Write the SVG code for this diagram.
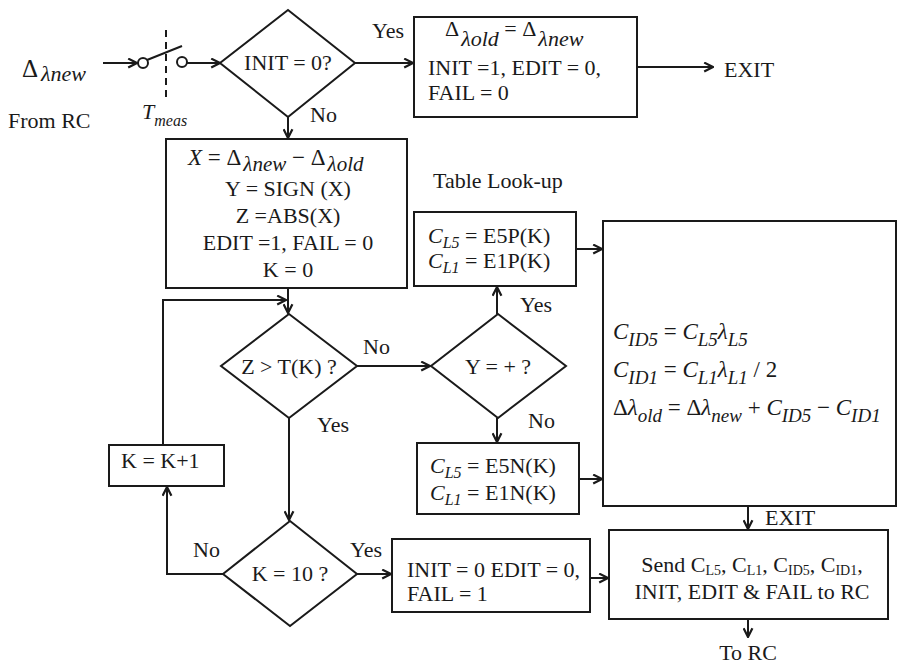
<svg xmlns="http://www.w3.org/2000/svg" width="902" height="666" viewBox="0 0 902 666">
<style>
.b{fill:#fff;stroke:#1a1a1a;stroke-width:2}
.c{fill:none;stroke:#1a1a1a;stroke-width:2}
text{font-family:"Liberation Serif","Times New Roman",serif;font-size:22px;fill:#1a1a1a}
.i{font-style:italic}
.s{font-size:16px}
.q{font-size:19px}
.m{text-anchor:middle}
</style>
<defs>
<marker id="a" viewBox="0 0 10 10" refX="9" refY="5" markerWidth="11" markerHeight="11" markerUnits="userSpaceOnUse" orient="auto">
<path d="M1,1 L9,5 L1,9" fill="none" stroke="#1a1a1a" stroke-width="2"/>
</marker>
</defs>
<rect width="902" height="666" fill="#fff"/>

<g id="input">
<text x="22" y="77" style="font-size:25px">Δ<tspan class="i" dx="3" dy="4" style="font-size:22px">λnew</tspan></text>
<text x="8" y="128">From RC</text>
</g>

<g id="switch">
<circle cx="143" cy="63" r="5" class="c"/>
<circle cx="182" cy="62" r="5" class="c"/>
<path d="M147,60 L182,46" class="c"/>
<path d="M166,30 V100" class="c" stroke-dasharray="7,5"/>
<text x="142" y="119" class="i">T<tspan class="s" dy="7">meas</tspan></text>
</g>

<g id="initCheck">
<polygon points="288,10 355,63 288,117 220,63" class="b"/>
<text x="288" y="70" class="m">INIT = 0?</text>
</g>

<g id="initBox">
<rect x="414" y="17" width="223" height="100" class="b"/>
<text x="445" y="36">Δ<tspan class="i" dx="2" dy="10">λold</tspan><tspan dy="-10"> = Δ</tspan><tspan class="i" dx="2" dy="10">λnew</tspan></text>
<text x="428" y="75">INIT =1, EDIT = 0,</text>
<text x="428" y="100">FAIL = 0</text>
</g>

<g id="exit1">
<text x="724" y="77">EXIT</text>
</g>

<g id="computeBox">
<rect x="166" y="139" width="241" height="149" class="b"/>
<text x="188" y="165" class="i" style="font-size:23px">X<tspan font-style="normal"> = Δ</tspan><tspan dx="2" dy="6" style="font-size:21px">λnew</tspan><tspan dy="-6" font-style="normal"> − Δ</tspan><tspan dx="2" dy="6" style="font-size:21px">λold</tspan></text>
<text x="288" y="196" class="m">Y = SIGN (X)</text>
<text x="288" y="223" class="m">Z =ABS(X)</text>
<text x="288" y="250" class="m">EDIT =1, FAIL = 0</text>
<text x="288" y="277" class="m">K = 0</text>
</g>

<g id="tableLabel">
<text x="433" y="188">Table Look-up</text>
</g>

<g id="zCheck">
<polygon points="289,314 357,366 289,418 221,366" class="b"/>
<text x="289" y="374" class="m">Z &gt; T(K) ?</text>
</g>

<g id="yCheck">
<polygon points="498,314 566,366 498,418 431,366" class="b"/>
<text x="498" y="374" class="m">Y = + ?</text>
</g>

<g id="posBox">
<rect x="414" y="212" width="162" height="74" class="b"/>
<text x="428" y="243"><tspan class="i">C</tspan><tspan class="i s" dy="5">L5</tspan><tspan dy="-5"> = E5P(K)</tspan></text>
<text x="428" y="268"><tspan class="i">C</tspan><tspan class="i s" dy="5">L1</tspan><tspan dy="-5"> = E1P(K)</tspan></text>
</g>

<g id="negBox">
<rect x="417" y="443" width="162" height="71" class="b"/>
<text x="430" y="473"><tspan class="i">C</tspan><tspan class="i s" dy="5">L5</tspan><tspan dy="-5"> = E5N(K)</tspan></text>
<text x="430" y="500"><tspan class="i">C</tspan><tspan class="i s" dy="5">L1</tspan><tspan dy="-5"> = E1N(K)</tspan></text>
</g>

<g id="calcBox">
<rect x="603" y="221" width="293" height="285" class="b"/>
<text x="613" y="339" style="font-size:23px"><tspan class="i">C</tspan><tspan class="i q" dy="7">ID5</tspan><tspan dy="-7"> = </tspan><tspan class="i">C</tspan><tspan class="i q" dy="7">L5</tspan><tspan dy="-7" class="i">λ</tspan><tspan class="i q" dy="7">L5</tspan></text>
<text x="613" y="377" style="font-size:23px"><tspan class="i">C</tspan><tspan class="i q" dy="7">ID1</tspan><tspan dy="-7"> = </tspan><tspan class="i">C</tspan><tspan class="i q" dy="7">L1</tspan><tspan dy="-7" class="i">λ</tspan><tspan class="i q" dy="7">L1</tspan><tspan dy="-7"> / 2</tspan></text>
<text x="613" y="415" style="font-size:23px">Δ<tspan class="i">λ</tspan><tspan class="i q" dy="7">old</tspan><tspan dy="-7"> = Δ</tspan><tspan class="i">λ</tspan><tspan class="i q" dy="7">new</tspan><tspan dy="-7"> + </tspan><tspan class="i">C</tspan><tspan class="i q" dy="7">ID5</tspan><tspan dy="-7"> − </tspan><tspan class="i">C</tspan><tspan class="i q" dy="7">ID1</tspan></text>
</g>

<g id="incBox">
<rect x="109" y="445" width="115" height="41" class="b"/>
<text x="121" y="468">K = K+1</text>
</g>

<g id="kCheck">
<polygon points="290,521 357,574 290,626 223,574" class="b"/>
<text x="290" y="581" class="m">K = 10 ?</text>
</g>

<g id="failBox">
<rect x="392" y="539" width="198" height="73" class="b"/>
<text x="407" y="577">INIT = 0 EDIT = 0,</text>
<text x="407" y="601">FAIL = 1</text>
</g>

<g id="exit2">
<text x="765" y="525">EXIT</text>
</g>

<g id="sendBox">
<rect x="609" y="530" width="279" height="89" class="b"/>
<text x="752" y="572" class="m">Send C<tspan style="font-size:14px" dy="3">L5</tspan><tspan dy="-3">, C</tspan><tspan style="font-size:14px" dy="3">L1</tspan><tspan dy="-3">, C</tspan><tspan style="font-size:14px" dy="3">ID5</tspan><tspan dy="-3">, C</tspan><tspan style="font-size:14px" dy="3">ID1</tspan><tspan dy="-3">,</tspan></text>
<text x="752" y="599" class="m">INIT, EDIT &amp; FAIL to RC</text>
</g>

<g id="toRC">
<text x="748" y="660" class="m">To RC</text>
</g>

<g id="connectors">
<path d="M103,63 H137" class="c" marker-end="url(#a)"/>
<path d="M187,63 H220" class="c" marker-end="url(#a)"/>
<path d="M355,63 H413" class="c" marker-end="url(#a)"/>
<path d="M637,67 H713" class="c" marker-end="url(#a)"/>
<path d="M288,117 V138" class="c" marker-end="url(#a)"/>
<path d="M288,288 V313" class="c" marker-end="url(#a)"/>
<path d="M163,445 V300 H286" class="c" marker-end="url(#a)"/>
<path d="M357,366 H430" class="c" marker-end="url(#a)"/>
<path d="M289,418 V520" class="c" marker-end="url(#a)"/>
<path d="M497,314 V287" class="c" marker-end="url(#a)"/>
<path d="M497,418 V442" class="c" marker-end="url(#a)"/>
<path d="M576,249 H602" class="c" marker-end="url(#a)"/>
<path d="M579,479 H602" class="c" marker-end="url(#a)"/>
<path d="M357,574 H391" class="c" marker-end="url(#a)"/>
<path d="M223,574 H167 V487" class="c" marker-end="url(#a)"/>
<path d="M590,578 H608" class="c" marker-end="url(#a)"/>
<path d="M748,506 V529" class="c" marker-end="url(#a)"/>
<path d="M748,619 V637" class="c" marker-end="url(#a)"/>
<text x="372" y="38">Yes</text>
<text x="310" y="122">No</text>
<text x="363" y="354">No</text>
<text x="317" y="432">Yes</text>
<text x="520" y="312">Yes</text>
<text x="528" y="428">No</text>
<text x="350" y="557">Yes</text>
<text x="193" y="557">No</text>
</g>
</svg>
